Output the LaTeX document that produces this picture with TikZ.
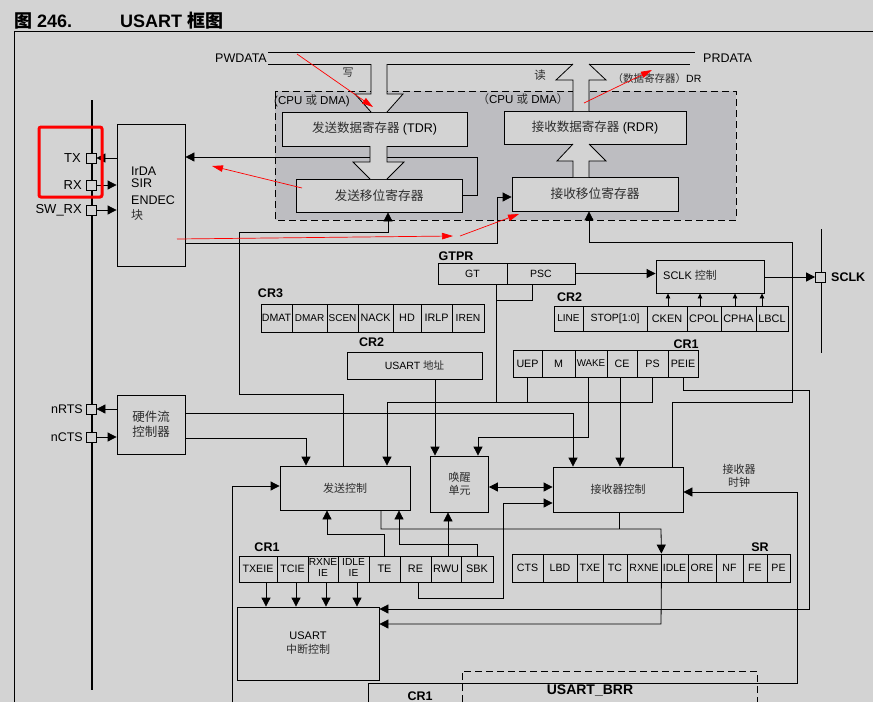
\documentclass[tikz,border=0pt]{standalone}
\usepackage{fontspec}
\setmainfont{Liberation Sans}
\newfontfamily\cjk{Noto Sans CJK SC}
\usetikzlibrary{arrows.meta}
\definecolor{bg}{RGB}{211,211,211}
\definecolor{dreg}{RGB}{189,189,193}
\definecolor{zhc}{RGB}{45,45,45}
\newcommand\fs[1]{\fontsize{#1}{#1}\selectfont}
\newcommand\zh[1]{{\cjk\color{zhc}#1}}
\newcommand\two[2]{\begin{tabular}{@{}c@{}}#1\\#2\end{tabular}}
\newcommand\cell[7]{\node[reg, minimum width={(#3)-(#2)}, minimum height={(#5)-(#4)}, font=\fs{#6}] (#1) at ({((#2)+(#3))/2},{((#4)+(#5))/2}) {\makebox[0pt]{#7}};}
\begin{document}
\begin{tikzpicture}[x=1pt,y=-1pt,
  ln/.style={line width=0.8pt},
  box/.style={draw, fill=bg, line width=0.8pt, inner sep=0pt},
  reg/.style={draw, fill=bg, line width=0.8pt, inner sep=0pt},
  bigtri/.tip={Triangle[length=9pt,width=9pt]},
  smalltri/.tip={Triangle[length=5pt,width=4.5pt]},
  redtri/.tip={Triangle[length=11pt,width=6.5pt]},
  arr/.style={ln, -bigtri},
  sarr/.style={ln, -smalltri},
  redarr/.style={red, line width=0.7pt, -redtri},
  lbl/.style={inner sep=0pt, font=\fs{12.5}},
  blbl/.style={inner sep=0pt, font=\fs{12.5}\bfseries},
  pin/.style={draw, fill=bg, line width=0.8pt, minimum size=10pt, inner sep=0pt},
]
\fill[bg] (0,0) rectangle (873,702);
\useasboundingbox (0,0) rectangle (873,702);

% title
\node[anchor=base west, inner sep=0pt, font=\fs{18}\bfseries] (fig) at (14,27) {{\cjk 图} 246.};
\node[anchor=base west, inner sep=0pt, font=\fs{18}\bfseries] (ttl) at (120,27) {USART {\cjk 框图}};

% frame
\draw[ln] (14,702) -- (14,31) -- (873,31);

% dashed CPU/DMA region
\draw[ln, dash pattern=on 7pt off 4pt, fill=dreg] (275,91) rectangle (736,220);

% data bus
\draw[ln] (268,52) -- (695,52);
\draw[ln] (268,64) -- (371,64) (387,64) -- (573,64) (589,64) -- (690,64);
\node[lbl, anchor=east] (pw) at (267,58) {PWDATA};
\node[lbl, anchor=west] (pr) at (703,58) {PRDATA};

% main boxes
\node[box, minimum width=185pt, minimum height=34pt, font=\fs{12.5}] (tdr) at (374.5,129) {\zh{发送数据寄存器} (TDR)};
\node[box, minimum width=182pt, minimum height=33pt, font=\fs{12.5}] (rdr) at (595,127.5) {\zh{接收数据寄存器} (RDR)};
\node[box, minimum width=166pt, minimum height=33pt, font=\fs{12.7}] (tsr) at (379,195.5) {\zh{发送移位寄存器}};
\node[box, minimum width=166pt, minimum height=34pt, font=\fs{12.7}] (rsr) at (595,194) {\zh{接收移位寄存器}};
\node[box, minimum width=68pt, minimum height=142pt] (irda) at (151,195) {};
\node[box, minimum width=68pt, minimum height=59pt, font=\fontsize{12.5}{15}\selectfont, align=center] (hfc) at (151,424.5) {\zh{硬件流}\\\zh{控制器}};
\node[box, minimum width=130pt, minimum height=44pt, font=\fs{11}] (txc) at (345,488) {\zh{发送控制}};
\node[box, minimum width=58pt, minimum height=56pt, font=\fontsize{11}{13}\selectfont, align=center] (wku) at (459.5,484) {\zh{唤醒}\\\zh{单元}};
\node[box, minimum width=130pt, minimum height=45pt, font=\fs{11}] (rxc) at (618,489.5) {\zh{接收器控制}};
\node[box, minimum width=142pt, minimum height=73pt, font=\fontsize{11}{14}\selectfont, align=center] (itc) at (308,643.5) {USART\\\zh{中断控制}};
\node[box, minimum width=135pt, minimum height=27pt, font=\fs{10.5}] (addr) at (414.5,365.5) {USART \zh{地址}};
\node[box, minimum width=108pt, minimum height=33pt] (sclk) at (710,276.5) {};
\node[inner sep=0pt, anchor=west, font=\fs{11}] (sclklbl) at (663,275) {SCLK \zh{控制}};

% IrDA text
\node[lbl, anchor=base west] (irdaA) at (131,175) {IrDA};
\node[lbl, anchor=base west] (irdaB) at (131,187.5) {SIR};
\node[lbl, anchor=base west] (irdaC) at (131,204) {ENDEC};
\node[lbl, anchor=base west, font=\fs{12}] (irdaD) at (131,219) {\zh{块}};

% registers
\cell{dmat}{261}{292}{304}{332}{10.6}{DMAT}
\cell{dmar}{292}{327}{304}{332}{10}{DMAR}
\cell{scen}{327}{358}{304}{332}{10}{SCEN}
\cell{nack}{358}{393}{304}{332}{10.8}{NACK}
\cell{hd}{393}{421}{304}{332}{10.8}{HD}
\cell{irlp}{421}{452}{304}{332}{10.8}{IRLP}
\cell{iren}{452}{484}{304}{332}{10.3}{IREN}

\cell{line}{554}{583}{306}{331}{10}{LINE}
\cell{stop}{583}{647}{306}{331}{10.5}{STOP[1:0]}
\cell{cken}{647}{687}{306}{331}{10.9}{CKEN}
\cell{cpol}{687}{721}{306}{331}{10.9}{CPOL}
\cell{cpha}{721}{756}{306}{331}{10.9}{CPHA}
\cell{lbcl}{756}{788}{306}{331}{10.9}{LBCL}

\cell{uep}{513}{542}{350}{377}{10.7}{UEP}
\cell{mbit}{542}{575}{350}{377}{10.7}{M}
\cell{wakeb}{575}{607}{350}{377}{9.8}{WAKE}
\cell{ce}{607}{637}{350}{377}{10.7}{CE}
\cell{ps}{637}{668}{350}{377}{10.7}{PS}
\cell{peie}{668}{698}{350}{377}{10.7}{PEIE}

\cell{gt}{438}{507}{263}{284}{10.5}{GT}
\cell{psc}{507}{575}{263}{284}{10.5}{PSC}

\cell{txeie}{239}{277}{556}{582}{10.7}{TXEIE}
\cell{tcie}{277}{308}{556}{582}{10.7}{TCIE}
\cell{rxneie}{308}{338}{556}{582}{10.2}{\two{RXNE}{IE}}
\cell{idleie}{338}{369}{556}{582}{10.2}{\two{IDLE}{IE}}
\cell{te}{369}{400}{556}{582}{10.9}{TE}
\cell{re}{400}{431}{556}{582}{10.9}{RE}
\cell{rwu}{431}{461}{556}{582}{10.9}{RWU}
\cell{sbk}{461}{493}{556}{582}{10.9}{SBK}

\cell{cts}{512}{543}{554}{582}{10.6}{CTS}
\cell{lbd}{543}{577}{554}{582}{10.6}{LBD}
\cell{txe}{577}{603}{554}{582}{10.6}{TXE}
\cell{tc}{603}{627}{554}{582}{10.6}{TC}
\cell{rxne}{627}{661}{554}{582}{10.5}{RXNE}
\cell{idle}{661}{688}{554}{582}{10.5}{IDLE}
\cell{ore}{688}{716}{554}{582}{10.5}{ORE}
\cell{nf}{716}{743}{554}{582}{10.6}{NF}
\cell{fe}{743}{767}{554}{582}{10.6}{FE}
\cell{pe}{767}{790}{554}{582}{10.6}{PE}

% bold register labels
\node[blbl] (lcr3) at (270.5,293.5) {CR3};
\node[blbl] (lcr2a) at (371.5,342.5) {CR2};
\node[blbl] (lgtpr) at (456,256.5) {GTPR};
\node[blbl] (lcr2b) at (569.5,297.5) {CR2};
\node[blbl] (lcr1a) at (686,344) {CR1};
\node[blbl] (lcr1b) at (267,547.5) {CR1};
\node[blbl] (lsr) at (760,547) {SR};
\node[blbl, font=\fs{14}\bfseries] (lbrr) at (590,690) {USART\_BRR};
\node[blbl] (lcr1c) at (420,696.5) {CR1};

% USART_BRR dashed box
\draw[ln, dash pattern=on 7pt off 4pt] (462,702) -- (462,671) -- (757,671) -- (757,702);

% pins and bus
\draw[line width=2.4pt] (92,100) -- (92,690);
\draw[line width=1pt] (821,229) -- (821,353);
\node[pin] (tx) at (91,158) {};
\node[pin] (rx) at (91,185) {};
\node[pin] (swrx) at (91,210) {};
\node[pin] (nrts) at (91,409) {};
\node[pin] (ncts) at (91,437) {};
\node[pin] (sclkpin) at (820.5,277) {};
\node[lbl, anchor=east, font=\fs{13}] (ltx) at (81,158) {TX};
\node[lbl, anchor=east, font=\fs{13}] (lrx) at (82,185) {RX};
\node[lbl, anchor=east, font=\fs{13}] (lswrx) at (82,210) {SW\_RX};
\node[lbl, anchor=east] (lnrts) at (83,409) {nRTS};
\node[lbl, anchor=east] (lncts) at (83,437) {nCTS};
\node[blbl, anchor=west] (lsclk) at (831,277) {SCLK};

% connectors
\draw[arr] (tsr.east) -- (477,195.5) -- (477,157) -- (irda.east |- 477,157);
\draw[arr] (irda.west |- tx) -- (tx.east);
\draw[arr] (rx.east) -- (irda.west |- rx);
\draw[arr] (swrx.east) -- (irda.west |- swrx);
\draw[arr] (irda.east |- 0,243) -- (497,243) -- (497,197) -- (rsr.west |- 0,197);
\draw[arr] (txc.north -| 343,0) -- (343,394) -- (239,394) -- (239,232) -- (388,232) -- (tsr.south -| 388,0);
\draw[arr] (psc.east) -- (sclk.west |- psc.east);
\draw[arr] (sclk.east |- sclkpin) -- (sclkpin.west);
\draw[sarr] (cken.north -| 668,0) -- (sclk.south -| 668,0);
\draw[sarr] (cpol.north -| 700,0) -- (sclk.south -| 700,0);
\draw[sarr] (cpha.north -| 735,0) -- (sclk.south -| 735,0);
\draw[sarr] (lbcl.north -| 762,0) -- (sclk.south -| 762,0);
\draw[ln] (gt.south -| 496,0) -- (496,402);
\draw[ln] (psc.south -| 532,0) -- (532,300) -- (496,300);
\draw[ln] (uep.south) -- (uep.south |- 0,402);
\draw[arr] (ps.south) -- (ps.south |- 0,402) -- (387,402) -- (txc.north -| 387,0);
\draw[arr] (addr.south -| 435,0) -- (wku.north -| 435,0);
\draw[arr] (wakeb.south -| 588,0) -- (588,437) -- (478,437) -- (wku.north -| 478,0);
\draw[arr] (ce.south -| 620,0) -- (rxc.north -| 620,0);
\draw[arr] (hfc.east |- 0,413) -- (573,413) -- (rxc.north -| 573,0);
\draw[arr] (hfc.east |- 0,438) -- (306,438) -- (txc.north -| 306,0);
\draw[arr] (hfc.west |- nrts) -- (nrts.east);
\draw[arr] (ncts.east) -- (hfc.west |- ncts);
\draw[arr] (peie.south -| 683,0) -- (683,390) -- (809,390) -- (809,609) -- (itc.east |- 0,609);
\draw[arr] (rxc.north -| 672,0) -- (672,402) -- (792,402) -- (792,242) -- (589,242) -- (rsr.south -| 589,0);
\coordinate (rclk) at (368,702);
\draw[arr] (rclk) -- (368,683) -- (797,683) -- (797,492) -- (rxc.east |- 0,492);
\node[inner sep=0pt, font=\fontsize{11}{13}\selectfont, align=center] (lrclk) at (739,475.5) {\zh{接收器}\\\zh{时钟}};
\draw[ln, bigtri-bigtri] (wku.east |- 0,487) -- (rxc.west |- 0,487);
\draw[arr] (re.south -| 418,0) -- (418,598) -- (503,598) -- (503,503) -- (rxc.west |- 0,503);
\draw[arr] (te.north) -- (te.north |- 0,534) -- (327,534) -- (txc.south -| 327,0);
\draw[arr] (sbk.north) -- (sbk.north |- 0,544) -- (399,544) -- (txc.south -| 399,0);
\draw[arr] (rwu.north -| 448,0) -- (wku.south -| 448,0);
\draw[arr] (txc.south -| 381,0) -- (381,529) -- (661,529) -- (rxne.north east);
\draw[ln] (rxc.south -| 619,0) -- (619,529);
\draw[arr] (rxne.south east) -- (661,624) -- (itc.east |- 0,624);
\draw[arr] (txeie.south -| 266,0) -- (itc.north -| 266,0);
\draw[arr] (tcie.south -| 296,0) -- (itc.north -| 296,0);
\draw[arr] (rxneie.south -| 326,0) -- (itc.north -| 326,0);
\draw[arr] (idleie.south -| 357,0) -- (itc.north -| 357,0);
\coordinate (tclk) at (232,702);
\draw[arr] (tclk) -- (232,486) -- (txc.west |- 0,486);

% hollow bus arrows
\fill[bg] (371,64) -- (371,94) -- (355,94) -- (371,112) -- (387,112) -- (403,94) -- (387,94) -- (387,64) -- cycle;
\draw[ln] (371,64) -- (371,94) -- (355,94) -- (371,112);
\draw[ln] (387,64) -- (387,94) -- (403,94) -- (387,112);
\fill[bg] (370,146) -- (370,162) -- (353,162) -- (370,179) -- (387,179) -- (404,162) -- (387,162) -- (387,146) -- cycle;
\draw[ln] (370,146) -- (370,162) -- (353,162) -- (370,179);
\draw[ln] (387,146) -- (387,162) -- (404,162) -- (387,179);
\fill[bg] (573,177) -- (573,161) -- (557,161) -- (573,144) -- (589,144) -- (606,161) -- (589,161) -- (589,177) -- cycle;
\draw[ln] (573,177) -- (573,161) -- (557,161) -- (573,144);
\draw[ln] (589,177) -- (589,161) -- (606,161) -- (589,144);
\fill[bg] (573,111) -- (573,80) -- (556,80) -- (573,64) -- (589,64) -- (606,80) -- (589,80) -- (589,111) -- cycle;
\draw[ln] (573,111) -- (573,80) -- (556,80) -- (573,64);
\draw[ln] (589,111) -- (589,80) -- (606,80) -- (589,64);

% bus labels
\node[inner sep=0pt, font=\fs{11}] (lw) at (348,73) {\zh{写}};
\node[inner sep=0pt, font=\fs{11.5}] (lr) at (540,75) {\zh{读}};
\node[inner sep=0pt, font=\fs{10.5}] (ldr) at (657,79) {\zh{（数据寄存器）}DR};
\node[inner sep=0pt, anchor=west, font=\fs{11.5}] (lcpu1) at (274,101) {(CPU \zh{或} DMA)};
\node[inner sep=0pt, font=\fs{11.5}] (lcpu2) at (523,99) {\zh{（}CPU \zh{或} DMA\zh{）}};

% red annotations
\draw[red, line width=3pt, rounded corners=2pt] (39,127) rectangle (102,197);
\coordinate (r1a) at (297,54);  \coordinate (r1b) at (373,107);
\coordinate (r2a) at (584,103); \coordinate (r2b) at (652,70);
\coordinate (r3a) at (302,188); \coordinate (r3b) at (212,166);
\coordinate (r4a) at (177,239); \coordinate (r4b) at (453,236);
\coordinate (r5a) at (460,236); \coordinate (r5b) at (519,214);
\draw[redarr] (r1a) -- (r1b);
\draw[redarr] (r2a) -- (r2b);
\draw[redarr] (r3a) -- (r3b);
\draw[redarr] (r4a) -- (r4b);
\draw[redarr] (r5a) -- (r5b);
\end{tikzpicture}
\end{document}
